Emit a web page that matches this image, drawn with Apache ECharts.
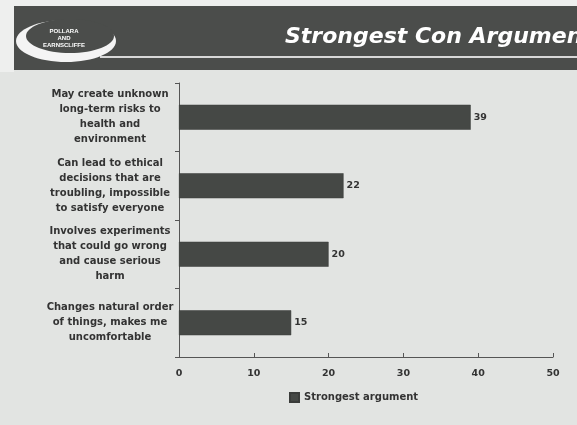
<!DOCTYPE html>
<html>
<head>
<meta charset="utf-8">
<script src="https://cdn.jsdelivr.net/npm/echarts@6/dist/echarts.min.js"></script>
<style>
html,body{margin:0;padding:0;background:#e2e4e2;}
#chart{width:577px;height:425px;}
</style>
</head>
<body>
<div id="chart"></div>
<script>
var categories = [
  "May create unknown\nlong-term risks to\nhealth and\nenvironment",
  "Can lead to ethical\ndecisions that are\ntroubling, impossible\nto satisfy everyone",
  "Involves experiments\nthat could go wrong\nand cause serious\nharm",
  "Changes natural order\nof things, makes me\nuncomfortable"
];
var values = [39, 22, 20, 15];
var seriesName = "Strongest argument";
var titleText = "Strongest Con Argument";

var chart = echarts.init(document.getElementById('chart'), null, {renderer: 'canvas'});
var font = '"DejaVu Sans", Verdana, sans-serif';
chart.setOption({
  backgroundColor: '#e2e4e2',
  animation: false,
  graphic: [
    {type: 'rect', shape: {x: 0, y: 0, width: 577, height: 6}, style: {fill: '#eeefee'}, z: 0},
    {type: 'rect', shape: {x: 0, y: 0, width: 14, height: 72}, style: {fill: '#eeefee'}, z: 0},
    {type: 'rect', shape: {x: 14, y: 6, width: 563, height: 64}, style: {fill: '#4b4d4b'}, z: 1},
    {type: 'ellipse', shape: {cx: 66, cy: 41, rx: 50, ry: 21}, style: {fill: '#f4f4f4'}, z: 2},
    {type: 'ellipse', shape: {cx: 70, cy: 36, rx: 44, ry: 17}, style: {fill: '#4b4d4b'}, z: 3},
    {type: 'line', shape: {x1: 100, y1: 57, x2: 577, y2: 57}, style: {stroke: '#d8d8d8', lineWidth: 2}, z: 3},
    {type: 'text', x: 64, y: 38, z: 4, style: {text: 'POLLARA\nAND\nEARNSCLIFFE', fill: '#ffffff', font: 'bold 6px "Liberation Sans", Arial, sans-serif', textAlign: 'center', textVerticalAlign: 'middle', lineHeight: 7}},
    {type: 'text', x: 285, y: 37, z: 4, style: {text: titleText, fill: '#ffffff', font: 'italic bold 22px ' + font, textAlign: 'left', textVerticalAlign: 'middle'}}
  ],
  grid: {left: 179, right: 24, top: 83, bottom: 68, containLabel: false},
  legend: {
    data: [seriesName],
    left: 284, top: 387,
    icon: 'rect', itemWidth: 9, itemHeight: 9, itemGap: 3,
    textStyle: {color: '#333333', fontWeight: 'bold', fontSize: 10, fontFamily: font}
  },
  xAxis: {
    type: 'value', min: 0, max: 50, interval: 10,
    axisLine: {show: true, lineStyle: {color: '#555555', width: 1}},
    axisTick: {show: true, length: 4, inside: true, lineStyle: {color: '#555555'}},
    splitLine: {show: false},
    axisLabel: {color: '#333333', fontWeight: 'bold', fontSize: 9.5, fontFamily: font, margin: 12}
  },
  yAxis: {
    type: 'category', data: categories, inverse: true,
    axisLine: {show: true, lineStyle: {color: '#555555', width: 1}},
    axisTick: {show: true, length: 4, lineStyle: {color: '#555555'}},
    axisLabel: {color: '#333333', fontWeight: 'bold', fontSize: 10, fontFamily: font, align: 'center', margin: 69, lineHeight: 15}
  },
  series: [{
    name: seriesName,
    type: 'bar',
    data: values,
    barWidth: 25,
    itemStyle: {color: '#454845', borderColor: '#3a3c3a', borderWidth: 0.5},
    label: {show: true, position: 'right', distance: 3, color: '#333333', fontWeight: 'bold', fontSize: 9.5, fontFamily: font}
  }]
});
</script>
</body>
</html>
